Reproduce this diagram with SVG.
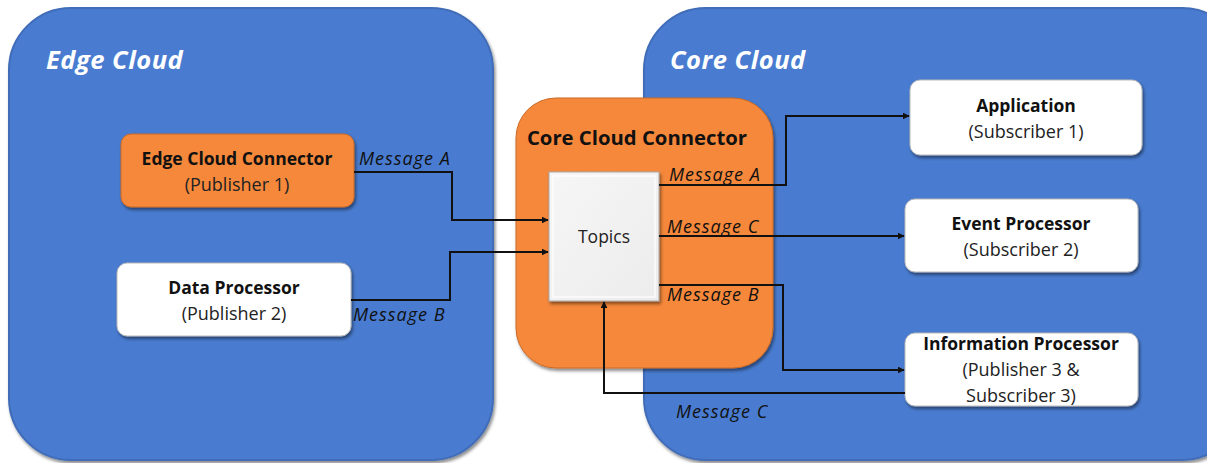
<svg xmlns="http://www.w3.org/2000/svg" width="1207" height="463" viewBox="0 0 1207 463">
  <defs>
    <filter id="shadow" x="-10%" y="-10%" width="125%" height="130%">
      <feDropShadow dx="1.5" dy="2.5" stdDeviation="1.8" flood-color="#000" flood-opacity="0.45"/>
    </filter>
    <linearGradient id="topicsFill" x1="0" y1="0" x2="1" y2="1">
      <stop offset="0" stop-color="#f6f6f6"/>
      <stop offset="1" stop-color="#ececec"/>
    </linearGradient>
    <marker id="arrow" viewBox="0 0 10 10" refX="9" refY="5" markerWidth="7" markerHeight="7" markerUnits="userSpaceOnUse" orient="auto">
      <path d="M0,0 L10,5 L0,10 z" fill="#111"/>
    </marker>
  </defs>
  <style>
    .cloud { fill: #4a7bd0; stroke: #3f6cb8; stroke-width: 2; }
    .orange { fill: #f5883b; stroke: #c96a27; stroke-width: 1; }
    .white { fill: #ffffff; stroke: #b9b9b9; stroke-width: 1; }
    .title { font-family: "Open Sans", Lato, sans-serif; font-style: italic; font-weight: bold; font-size: 25.5px; letter-spacing: 0.5px; fill: #ffffff; }
    .bold { font-family: "Open Sans", Lato, sans-serif; font-weight: bold; font-size: 17.5px; fill: #111; text-anchor: middle; }
    .sub { font-family: "Open Sans", Lato, sans-serif; font-size: 18px; fill: #222; text-anchor: middle; }
    .msg { font-family: "Open Sans", Lato, sans-serif; font-style: italic; font-size: 18px; letter-spacing: 1px; fill: #111; }
    .wire { fill: none; stroke: #111; stroke-width: 2; }
  </style>

  <!-- cloud regions -->
  <g id="edge-cloud">
    <rect class="cloud" x="9" y="8" width="484" height="452" rx="62" filter="url(#shadow)"/>
    <text class="title" x="46" y="69">Edge Cloud</text>
  </g>
  <g id="core-cloud">
    <rect class="cloud" x="644" y="8" width="600" height="452" rx="62" filter="url(#shadow)"/>
    <text class="title" x="670" y="69">Core Cloud</text>
  </g>

  <!-- connector nodes -->
  <g id="core-cloud-connector">
    <rect class="orange" x="516" y="98" width="257" height="270" rx="40" filter="url(#shadow)"/>
    <text class="bold" x="637" y="145" style="font-size:20.3px">Core Cloud Connector</text>
  </g>
  <g id="topics">
    <rect x="549" y="172" width="110" height="129" fill="url(#topicsFill)" stroke="#a9a9a9" stroke-width="1" filter="url(#shadow)"/>
    <rect x="553" y="176" width="102" height="121" fill="none" stroke="#ffffff" stroke-width="1.5" opacity="0.8"/>
    <text class="sub" x="604" y="243" style="font-size:17.5px">Topics</text>
  </g>

  <g id="edge-cloud-connector">
    <rect class="orange" x="121" y="134" width="233" height="73" rx="10" filter="url(#shadow)"/>
    <text class="bold" x="237" y="165">Edge Cloud Connector</text>
    <text class="sub" x="237" y="191">(Publisher 1)</text>
  </g>
  <g id="data-processor">
    <rect class="white" x="117" y="263" width="234" height="73" rx="10" filter="url(#shadow)"/>
    <text class="bold" x="234" y="294">Data Processor</text>
    <text class="sub" x="234" y="320">(Publisher 2)</text>
  </g>

  <g id="application">
    <rect class="white" x="910" y="80" width="232" height="75" rx="10" filter="url(#shadow)"/>
    <text class="bold" x="1026" y="112">Application</text>
    <text class="sub" x="1026" y="138">(Subscriber 1)</text>
  </g>
  <g id="event-processor">
    <rect class="white" x="905" y="199" width="233" height="73" rx="10" filter="url(#shadow)"/>
    <text class="bold" x="1021" y="230">Event Processor</text>
    <text class="sub" x="1021" y="256">(Subscriber 2)</text>
  </g>
  <g id="information-processor">
    <rect class="white" x="905" y="333" width="233" height="73" rx="10" filter="url(#shadow)"/>
    <text class="bold" x="1021" y="350">Information Processor</text>
    <text class="sub" x="1021" y="376">(Publisher 3 &amp;</text>
    <text class="sub" x="1021" y="402">Subscriber 3)</text>
  </g>

  <!-- message flows -->
  <g id="connectors">
    <path class="wire" d="M354,172 H452 V220 H548" marker-end="url(#arrow)"/>
    <path class="wire" d="M351,300 H450 V252 H548" marker-end="url(#arrow)"/>
    <path class="wire" d="M659,185 H786 V116 H909" marker-end="url(#arrow)"/>
    <path class="wire" d="M659,236 H904" marker-end="url(#arrow)"/>
    <path class="wire" d="M659,285 H783 V370 H904" marker-end="url(#arrow)"/>
    <path class="wire" d="M905,393 H604 V302" marker-end="url(#arrow)"/>

    <text class="msg" x="359" y="165">Message A</text>
    <text class="msg" x="353" y="321">Message B</text>
    <text class="msg" x="669" y="181">Message A</text>
    <text class="msg" x="667" y="233">Message C</text>
    <text class="msg" x="667" y="301">Message B</text>
    <text class="msg" x="676" y="418">Message C</text>
  </g>
</svg>
